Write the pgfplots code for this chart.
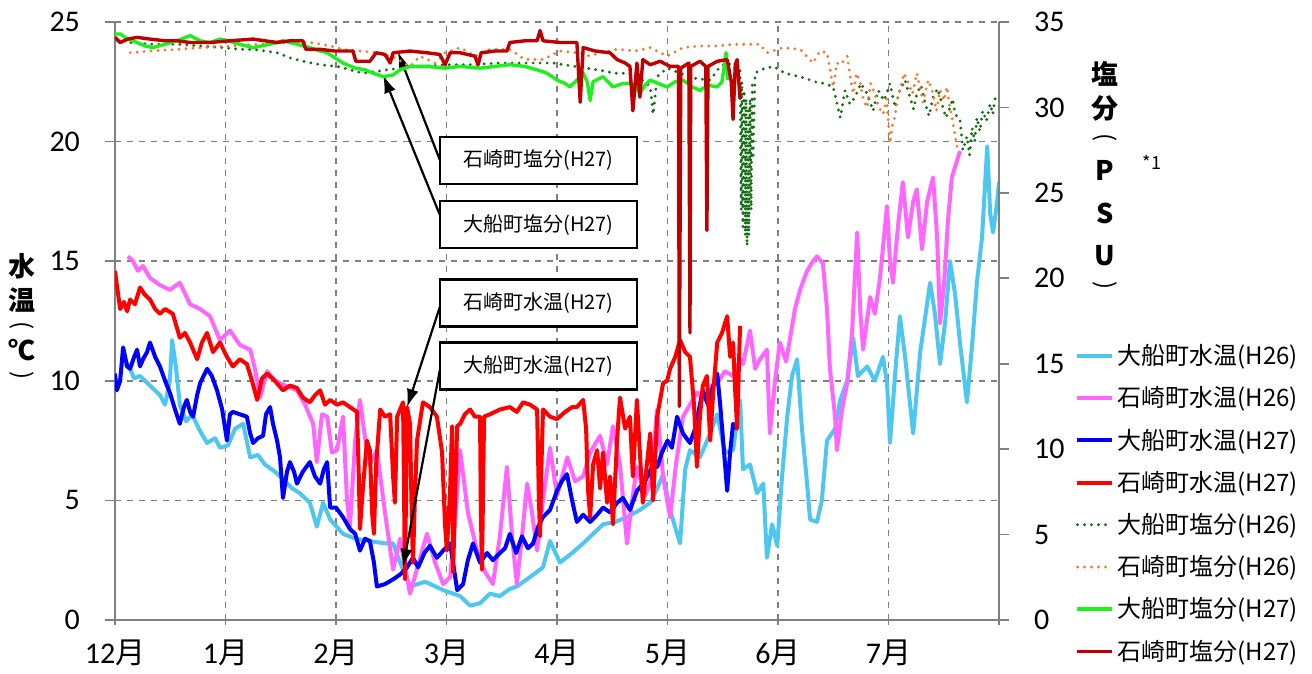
\documentclass[border=0pt]{standalone}
\usepackage{fontspec}
\usepackage{pgfplots}
\pgfplotsset{compat=1.18}
\usetikzlibrary{arrows.meta}
\setmainfont{Carlito}
\newfontfamily\jp{Noto Sans CJK JP}

\definecolor{obTemp26}{RGB}{77,199,240}
\definecolor{isTemp26}{RGB}{255,102,255}
\definecolor{obTemp27}{RGB}{0,0,255}
\definecolor{isTemp27}{RGB}{255,0,0}
\definecolor{obSal26}{RGB}{20,110,20}
\definecolor{isSal26}{RGB}{237,125,49}
\definecolor{obSal27}{RGB}{30,240,30}
\definecolor{isSal27}{RGB}{192,0,0}
\definecolor{axgray}{RGB}{128,128,128}

\pgfplotsset{
  common/.style={
    scale only axis, width=442pt, height=299pt,
    xmin=0, xmax=240,
    axis line style={axgray, line width=0.8pt},
    tick style={axgray, line width=0.8pt},
    major tick length=5pt,
    /pgf/number format/assume math mode=true,
    tick label style={font=\fontsize{15}{17}\selectfont},
    clip mode=individual,
  },
}
\tikzset{
  tline/.style={line width=2pt, line join=round},
  sline/.style={line width=1.7pt, line join=round},
  dline/.style={line width=1.6pt, line cap=round, dash pattern=on 0pt off 3.5pt},
  note/.style={draw, line width=1.2pt, fill=white, minimum width=98.5pt, minimum height=23.5pt,
    inner sep=0pt, font=\jp\fontsize{10}{12}\selectfont},
  arr/.style={-{Latex[length=9pt,width=6pt]}, line width=1.1pt},
}

\begin{document}
\begin{tikzpicture}
% ---- water temperature (left axis)
\begin{axis}[common,
  ymin=0, ymax=25, ytick={0,5,...,25},
  xtick={0,30,...,240},
  xticklabels={12{\jp 月},1{\jp 月},2{\jp 月},3{\jp 月},4{\jp 月},5{\jp 月},6{\jp 月},7{\jp 月},},
  axis y line*=left, axis x line*=bottom,
  ytick align=outside, xtick align=center,
  yticklabel shift=9pt, xticklabel shift=4pt,
  grid=major, grid style={axgray, dashed, line width=0.8pt},
]
\addplot[tline, obTemp26] coordinates {
(2.7,10.6)(3.5,10.7)(5.2,10.1)(6.8,10.2)(9.5,9.8)(12.2,9.4)(13.6,9.0)(14.9,10.0)(15.5,11.7)(16.6,10.5)
(17.6,9.0)(19.3,8.3)(20.9,8.6)(23.1,7.9)(25.0,7.4)(27.2,7.6)(28.5,7.2)(30.7,7.3)(32.6,8.0)(34.8,8.2)
(36.7,6.8)(38.8,6.9)(40.7,6.5)(43.4,6.2)(45.6,5.9)(48.1,5.5)(50.2,5.3)(52.9,4.9)(54.8,3.9)(56.5,4.9)
(58.4,4.2)(61.9,3.6)(65.2,3.4)(69.2,3.3)(73.3,3.2)(75.5,3.2)(77.4,2.4)(80.1,1.4)(84.2,1.6)(89.1,1.25)
(93.7,1.0)(96.4,0.6)(99.1,0.7)(101.8,1.1)(104.5,1.0)(107.2,1.3)(109.1,1.4)(112.7,1.8)(116.2,2.2)(118.1,3.3)
(120.8,2.4)(124.1,2.8)(127.1,3.2)(129.8,3.6)(132.5,4.0)(135.8,4.1)(139.0,4.3)(142.5,4.6)(145.3,4.9)(147.2,5.5)
(148.8,6.1)(150.7,4.6)(153.4,3.2)(154.8,6.3)(156.1,7.1)(158.8,6.8)(161.6,7.8)(163.5,8.6)(165.6,7.0)(167.8,7.1)
(169.7,9.2)(170.5,6.3)(172.4,6.5)(174.3,5.3)(176.0,5.7)(177.0,2.6)(178.4,4.0)(179.8,3.1)(181.1,6.0)(182.5,8.5)
(183.8,10.2)(185.2,10.9)(186.5,8.0)(187.9,5.7)(188.7,4.2)(190.6,4.1)(191.9,5.0)(193.3,7.5)(195.5,8.0)(196.9,9.2)
(198.8,10.0)(200.4,11.8)(201.7,10.2)(204.2,10.6)(206.3,10.0)(208.5,11.0)(209.6,9.9)(210.4,7.4)(211.8,10.3)(213.1,12.7)
(214.5,11.0)(216.7,7.8)(218.6,11.2)(221.3,14.1)(222.6,12.8)(224.0,10.7)(225.4,12.5)(226.7,15.0)(228.1,13.6)(229.4,11.6)
(231.3,9.1)(232.7,11.5)(234.0,14.1)(235.4,16.0)(236.8,19.8)(237.6,17.0)(238.4,16.2)(239.5,17.5)(240.0,18.3)
};
\addplot[tline, isTemp26] coordinates {
(3.5,15.2)(4.9,15.0)(6.2,14.6)(7.6,14.8)(9.5,14.3)(12.2,14.0)(14.9,13.8)(17.6,14.1)(20.4,13.2)(23.1,13.0)
(25.8,12.7)(28.5,11.7)(31.2,12.1)(33.9,11.5)(36.7,11.3)(38.0,10.5)(39.4,9.3)(41.3,10.4)(43.4,10.0)(46.2,9.8)
(49.4,9.6)(51.6,9.0)(53.8,8.2)(54.8,6.6)(56.2,8.6)(57.6,8.5)(58.9,7.0)(60.3,7.1)(61.9,8.5)(63.0,5.0)
(63.8,3.9)(65.2,7.5)(66.5,9.2)(67.9,7.6)(69.2,6.5)(71.1,7.1)(73.3,4.5)(75.5,2.1)(77.4,3.4)(80.1,1.1)
(82.3,2.3)(84.7,3.6)(86.9,2.4)(89.1,1.5)(91.0,1.8)(92.3,4.0)(93.7,7.1)(95.8,4.5)(98.3,2.9)(100.5,2.0)
(102.6,1.5)(104.5,3.5)(106.4,6.4)(107.8,3.5)(109.1,1.5)(110.5,3.5)(111.9,5.7)(113.2,4.5)(114.6,2.9)(116.2,5.0)
(118.1,7.2)(120.0,5.2)(122.8,6.8)(124.9,5.8)(127.1,6.0)(129.0,7.0)(131.7,7.7)(133.6,6.5)(135.2,8.1)(137.1,6.5)
(139.0,3.2)(140.4,5.0)(141.7,6.4)(143.9,5.2)(145.3,5.7)(146.4,7.5)(147.2,8.8)(148.8,6.0)(150.7,4.3)(152.3,6.5)
(154.2,8.5)(156.1,9.0)(158.0,9.5)(160.2,9.2)(162.1,9.8)(163.5,9.9)(165.6,10.4)(167.8,10.2)(169.7,10.9)(170.5,10.7)
(172.4,12.1)(173.8,10.5)(175.1,10.9)(177.0,11.3)(177.8,7.8)(179.2,10.0)(180.5,11.6)(182.2,10.8)(183.3,11.8)(184.6,13.0)
(186.0,13.8)(187.9,14.6)(189.5,15.0)(190.6,15.2)(192.2,14.9)(193.3,13.0)(194.1,10.5)(195.5,8.5)(196.0,7.1)(197.4,8.8)
(198.8,9.9)(200.1,12.0)(201.5,16.2)(202.3,13.0)(203.1,11.3)(205.0,13.5)(206.3,12.8)(207.7,14.3)(209.6,17.3)(210.4,15.0)
(211.2,14.1)(212.6,16.5)(213.9,18.3)(215.3,16.0)(216.7,17.5)(217.7,18.0)(219.1,15.5)(220.5,17.5)(222.1,18.5)(223.2,16.0)
(224.0,12.4)(225.1,14.1)(226.2,16.8)(227.2,18.5)(228.6,19.2)(229.4,19.6)
};
\addplot[tline, obTemp27] coordinates {
(0,10.3)(0.5,9.6)(1.4,10.0)(2.2,11.4)(3.3,10.6)(4.1,10.5)(5.2,11.0)(6.0,11.3)(6.8,10.6)(7.6,10.9)
(8.7,11.2)(9.5,11.6)(10.9,11.0)(12.2,10.6)(13.6,10.0)(14.9,9.5)(16.3,8.8)(17.6,8.2)(18.7,8.9)(19.5,9.2)
(20.4,8.7)(21.2,8.5)(22.3,9.4)(23.1,9.9)(25.0,10.5)(26.3,10.2)(27.7,9.6)(29.1,8.8)(30.4,7.5)(31.2,8.6)
(32.0,8.7)(33.9,8.6)(35.8,8.5)(36.7,7.8)(37.5,7.4)(38.8,7.6)(40.2,7.7)(41.0,8.6)(42.1,8.9)(42.9,8.2)
(44.0,7.5)(44.8,6.8)(45.6,5.1)(46.7,6.2)(47.5,6.6)(48.6,6.2)(49.4,5.7)(51.0,6.2)(52.9,6.6)(54.3,6.0)
(55.7,5.7)(56.7,6.3)(57.6,6.6)(58.4,4.7)(60.0,4.7)(61.9,4.3)(63.8,3.8)(65.2,3.6)(66.5,2.9)(67.9,3.4)
(69.2,3.3)(70.3,2.4)(71.1,1.4)(73.3,1.5)(75.5,1.7)(77.4,1.9)(79.3,2.2)(80.9,2.6)(82.3,2.2)(84.0,2.8)
(85.5,3.1)(87.4,2.6)(89.1,2.9)(91.0,3.2)(92.9,1.25)(94.5,1.5)(95.8,2.5)(97.2,3.2)(99.1,2.4)(101.0,2.8)
(102.6,2.5)(104.5,2.8)(105.9,3.0)(107.2,3.6)(108.9,2.8)(110.5,3.5)(112.1,3.0)(113.5,3.2)(114.9,3.9)(116.2,4.3)
(118.1,4.6)(120.0,5.4)(121.3,5.8)(122.7,6.1)(124.1,5.0)(125.4,4.1)(127.1,4.4)(129.0,4.1)(130.9,4.4)(132.5,4.7)
(134.4,4.5)(136.3,4.9)(137.9,5.1)(139.8,4.6)(141.7,5.4)(143.9,5.8)(145.8,6.4)(147.2,6.4)(148.5,7.0)(150.0,7.5)
(151.2,7.2)(152.6,8.5)(154.2,7.8)(156.1,7.4)(157.5,8.0)(158.8,9.0)(159.6,9.6)(161.0,9.0)(162.4,9.8)(163.5,10.3)
(164.3,9.0)(165.1,7.5)(166.2,5.4)(167.0,7.0)(167.8,8.2)(168.9,8.0)
};
\addplot[tline, isTemp27] coordinates {
(0,14.6)(0.5,14.0)(1.4,13.0)(2.4,13.3)(3.3,12.9)(4.1,13.4)(5.4,13.2)(6.8,13.9)(8.1,13.6)(9.5,13.4)
(10.9,13.0)(12.2,12.8)(13.6,13.0)(15.7,12.8)(17.6,11.8)(19.0,12.0)(20.4,11.6)(22.3,10.9)(23.6,11.6)(25.0,12.0)
(26.6,11.2)(28.5,11.6)(30.4,11.0)(32.0,10.6)(33.9,10.9)(35.8,10.7)(37.2,10.0)(38.6,9.2)(39.9,10.1)(41.3,10.3)
(43.4,10.0)(45.6,9.6)(47.5,9.8)(49.4,9.7)(51.0,9.3)(52.9,9.1)(54.3,9.4)(55.7,9.6)(57.0,9.0)(58.4,9.2)
(60.3,9.0)(61.9,9.1)(63.8,8.9)(65.7,8.7)(66.2,6.0)(66.5,3.8)(67.3,5.5)(68.4,7.5)(69.2,7.1)(69.8,4.5)
(70.3,3.6)(70.9,6.5)(72.0,8.8)(73.3,8.5)(74.7,8.6)(75.5,6.0)(76.0,4.9)(76.6,8.5)(78.2,9.1)(78.5,5.0)
(78.7,1.7)(79.0,5.0)(79.3,8.9)(80.1,8.2)(80.6,4.0)(80.9,2.4)(81.5,5.5)(82.0,7.5)(83.6,9.1)(85.5,8.9)
(87.4,8.5)(88.8,7.0)(89.6,4.0)(90.1,2.9)(91.0,5.5)(91.5,8.1)(91.8,2.0)(92.3,5.0)(92.9,8.1)(93.7,8.2)
(95.0,8.6)(96.4,8.8)(97.7,8.5)(99.1,8.5)(99.3,5.0)(99.6,2.1)(99.9,5.0)(100.2,8.5)(101.8,8.6)(104.5,8.8)
(107.2,8.9)(109.1,8.7)(110.8,9.1)(112.7,9.0)(114.6,8.8)(115.1,5.0)(115.4,3.5)(115.7,6.0)(116.2,8.8)(118.1,8.5)
(120.0,8.4)(122.2,8.7)(124.1,8.9)(125.4,8.9)(127.1,9.2)(127.9,8.0)(128.4,5.5)(129.0,4.3)(129.8,6.5)(130.9,7.1)
(131.7,5.5)(132.5,7.0)(133.6,4.9)(134.4,6.0)(135.2,4.0)(136.3,7.5)(137.1,9.3)(138.5,8.0)(139.8,8.5)(140.6,6.0)
(141.7,9.2)(142.5,7.0)(143.3,4.9)(144.4,6.5)(145.3,7.8)(146.1,5.0)(147.2,8.5)(148.8,9.9)(149.9,10.0)(150.7,10.5)
(152.1,11.0)(153.4,11.7)(154.8,11.2)(156.1,11.0)(157.2,9.0)(158.0,6.4)(158.8,8.5)(159.6,9.8)(160.7,10.2)(161.6,7.5)
(162.4,9.5)(163.5,11.6)(164.8,12.0)(166.2,12.7)(167.0,11.0)(167.8,11.6)(168.4,9.5)(168.9,8.0)(169.7,12.3)
};
% annotations
\node[note] at (axis cs:115,19.21) {石崎町塩分(H27)};
\node[note] at (axis cs:115,16.53) {大船町塩分(H27)};
\node[note] at (axis cs:115,13.25) {石崎町水温(H27)};
\node[note] at (axis cs:115,10.62) {大船町水温(H27)};
\draw[arr] (axis cs:88.2,19.23) -- (axis cs:76.8,23.75);
\draw[arr] (axis cs:88.2,16.93) -- (axis cs:72.8,22.78);
\draw[arr] (axis cs:88.2,13.09) -- (axis cs:79.3,8.90);
\draw[arr] (axis cs:88.2,10.45) -- (axis cs:78.2,2.22);
\end{axis}

% ---- salinity (right axis)
\begin{axis}[common,
  ymin=0, ymax=35, ytick={0,5,...,35},
  axis y line*=right, axis x line=none,
  ytick align=outside, yticklabel shift=9pt,
  legend style={at={(1.086,0.468)}, anchor=north west, draw=none, fill=none,
    font=\jp\fontsize{12}{14}\selectfont, row sep=5.5pt, inner sep=0pt},
  legend cell align=left,
]
\addlegendimage{tline, obTemp26}\addlegendentry{大船町水温(H26)}
\addlegendimage{tline, isTemp26}\addlegendentry{石崎町水温(H26)}
\addlegendimage{tline, obTemp27}\addlegendentry{大船町水温(H27)}
\addlegendimage{tline, isTemp27}\addlegendentry{石崎町水温(H27)}
\addplot[dline, obSal26] coordinates {
(2.7,34.0)(4.1,33.8)(9.5,33.7)(16.8,33.7)(23.1,33.6)(29.3,33.5)(33.9,33.4)(37.5,33.4)(40.7,33.3)(44.0,33.2)
(47.5,32.9)(51.0,32.7)(55.7,32.5)(60.3,32.4)(63.8,32.2)(67.3,32.0)(70.6,32.1)(73.9,32.2)(77.4,32.3)(82.8,32.4)
(89.1,32.5)(96.4,32.5)(104.5,32.6)(112.7,32.6)(118.9,32.6)(124.9,32.4)(130.9,32.2)(135.8,32.0)(139.8,32.0)(143.9,31.5)
(145.3,31.2)(146.1,29.6)(147.2,31.8)(149.9,32.3)(153.4,32.0)(157.5,31.7)(161.6,31.6)(164.3,32.4)(166.2,32.6)(168.4,32.4)
(169.7,32.3)(170.0,24.0)(170.2,31.5)(170.5,23.0)(170.8,31.0)(171.1,22.5)(171.3,30.5)(171.6,21.9)(171.9,30.0)(172.1,22.5)
(172.4,30.5)(172.7,24.0)(173.0,31.5)(173.2,27.0)(173.8,32.0)(175.1,32.2)(178.7,32.4)(181.9,32.0)(186.0,31.8)(190.1,31.5)
(192.8,31.4)(195.0,31.2)(196.9,29.4)(198.2,31.0)(199.5,30.2)(200.9,30.6)(202.5,31.4)(204.2,30.8)(205.8,29.8)(207.2,31.0)
(208.8,30.4)(210.4,31.4)(211.8,30.0)(213.1,31.0)(214.5,31.6)(215.8,30.6)(216.8,29.9)(217.7,30.8)(218.8,31.3)(219.9,30.3)
(221.0,29.5)(222.1,30.6)(223.3,31.1)(224.5,30.2)(225.6,29.4)(226.7,30.0)(227.4,30.5)(228.1,29.6)(229.4,29.3)(230.2,27.5)
(231.3,28.3)(232.0,27.2)(232.7,28.8)(233.4,28.0)(234.0,29.4)(234.8,28.6)(235.6,29.8)(236.6,29.2)(237.6,30.2)(238.3,29.6)
(239.0,30.6)(240.0,30.4)
};
\addlegendentry{大船町塩分(H26)}
\addplot[dline, isSal26] coordinates {
(4.1,33.2)(9.5,33.3)(16.8,33.4)(23.9,33.5)(31.2,33.6)(39.4,33.7)(47.5,33.8)(52.9,33.8)(58.4,33.6)(61.9,33.4)
(66.5,33.3)(71.1,33.2)(76.0,32.9)(80.1,32.4)(82.8,33.0)(86.9,32.6)(89.6,33.2)(93.7,33.5)(97.7,33.0)(101.8,33.4)
(107.2,33.4)(111.3,32.8)(116.2,32.8)(120.8,33.3)(125.4,33.2)(129.0,33.0)(131.7,33.2)(136.3,33.4)(141.2,33.3)(145.3,33.5)
(149.9,33.0)(154.2,33.5)(158.8,33.6)(163.5,33.6)(168.4,33.7)(172.4,33.7)(175.1,33.7)(177.0,33.2)(181.4,33.5)(186.0,33.4)
(189.5,32.6)(191.4,33.3)(193.3,33.2)(195.0,31.2)(196.0,32.6)(197.0,32.5)(198.8,33.0)(199.6,31.8)(200.4,30.8)(201.3,32.0)
(202.3,31.5)(203.2,30.4)(204.2,30.0)(205.2,31.4)(206.3,30.8)(207.4,30.0)(208.5,29.6)(209.5,30.5)(210.4,27.9)(211.1,29.0)
(211.8,29.5)(212.5,30.6)(213.1,31.0)(214.2,32.0)(215.3,31.5)(216.5,30.8)(217.7,32.0)(218.5,31.2)(219.4,30.3)(220.8,31.6)
(222.1,30.8)(223.0,29.8)(224.0,31.0)(225.0,30.4)(225.9,31.2)(226.6,30.0)(227.2,29.5)(227.9,28.6)(228.6,27.7)
};
\addlegendentry{石崎町塩分(H26)}
\addplot[sline, obSal27] coordinates {
(0,34.3)(1.4,34.3)(3.5,34.0)(6.0,33.8)(8.1,33.6)(10.3,33.5)(13.6,33.7)(16.8,33.9)(20.4,34.2)(23.1,33.9)
(25.8,33.8)(28.5,34.0)(30.4,33.9)(33.9,33.7)(37.5,33.5)(42.1,33.7)(45.6,33.9)(49.4,33.7)(52.9,33.5)(55.7,33.3)
(57.6,33.2)(59.7,32.9)(61.9,32.6)(65.2,32.3)(67.9,32.2)(70.1,32.0)(72.8,31.8)(75.5,31.9)(77.4,32.2)(80.1,32.4)
(84.7,32.4)(89.6,32.3)(93.7,32.4)(99.1,32.3)(103.2,32.4)(107.2,32.5)(111.3,32.4)(114.6,32.2)(117.3,32.0)(120.0,31.6)
(122.2,31.4)(123.5,31.2)(125.4,31.6)(127.1,32.0)(128.2,31.5)(129.0,30.4)(129.8,31.5)(132.5,31.8)(135.2,31.2)(137.9,31.4)
(140.6,31.4)(142.5,30.8)(143.9,31.3)(145.3,31.6)(147.4,31.4)(149.9,31.2)(152.1,31.5)(154.2,31.6)(156.7,31.2)(158.8,31.0)
(161.0,31.3)(163.5,31.2)(164.8,31.5)(165.9,33.2)(166.4,31.6)
};
\addlegendentry{大船町塩分(H27)}
\addplot[sline, isSal27] coordinates {
(0,34.1)(1.4,33.8)(3.5,34.0)(6.0,34.1)(9.5,34.0)(13.6,33.9)(16.8,33.9)(20.4,33.8)(25.8,33.8)(31.2,33.9)
(37.5,34.0)(40.7,33.9)(44.0,33.8)(47.5,33.9)(51.0,33.9)(51.8,33.4)(55.7,33.4)(59.7,33.3)(64.6,33.3)(65.4,32.7)
(69.2,32.7)(70.9,33.2)(73.3,33.1)(74.7,32.6)(75.5,33.2)(80.1,33.3)(84.7,33.2)(88.2,33.1)(89.6,32.5)(91.0,33.2)
(93.7,33.2)(97.7,33.0)(98.6,32.5)(99.4,33.2)(103.2,33.3)(106.4,33.3)(107.2,33.8)(111.3,33.9)(114.6,33.9)(115.4,34.5)
(116.2,33.9)(120.8,33.8)(125.4,33.8)(126.3,30.3)(127.1,33.5)(130.4,33.3)(134.4,33.2)(136.3,32.8)(138.5,32.6)(139.8,32.4)
(140.6,29.8)(141.7,32.6)(142.5,30.6)(143.3,32.8)(145.3,32.5)(148.0,32.7)(150.7,32.4)(153.0,32.4)(153.2,12.5)(153.6,32.3)
(155.8,32.6)(156.1,16.8)(156.3,32.4)(158.8,32.7)(160.4,32.4)(160.7,22.8)(161.0,32.4)(163.5,32.7)(166.2,32.8)(167.3,31.5)
(167.8,29.3)(168.4,32.5)(168.9,32.8)(169.7,30.5)
};
\addlegendentry{石崎町塩分(H27)}
\end{axis}

% axis titles
\begin{scope}[font=\jp\bfseries\fontsize{13.5}{16}\selectfont]
\node at (-46.5pt,177pt) {水};
\node at (-46.5pt,160pt) {温};
\node[rotate=-90, font=\jp\fontsize{12}{14}\selectfont] at (-46.5pt,147pt) {(};
\node at (-46.5pt,135pt) {℃};
\node[rotate=-90, font=\jp\fontsize{12}{14}\selectfont] at (-46.5pt,122pt) {)};
\node at (495pt,273pt) {塩};
\node at (495pt,256pt) {分};
\node[rotate=-90, font=\jp\fontsize{12}{14}\selectfont] at (495pt,241pt) {(};
\node at (495pt,225pt) {P};
\node at (495pt,203.5pt) {S};
\node at (495pt,182pt) {U};
\node[rotate=-90, font=\jp\fontsize{12}{14}\selectfont] at (495pt,167pt) {)};
\end{scope}
\node[font=\jp\fontsize{9}{10}\selectfont] at (518.5pt,229pt) {*1};

\pgfresetboundingbox
\path[use as bounding box] (-57.5pt,-27pt) rectangle (598.5pt,310pt);
\end{tikzpicture}
\end{document}
